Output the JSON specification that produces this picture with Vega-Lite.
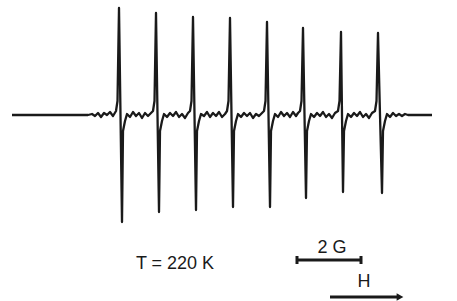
{
  "$schema": "https://vega.github.io/schema/vega-lite/v6.json",
  "width": 457,
  "height": 301,
  "autosize": {"type": "none"},
  "padding": 0,
  "background": "white",
  "config": {"view": {"stroke": null}},
  "datasets": {
    "spectrum": [
      {"field": 12, "signal": 0}, {"field": 88, "signal": 0}, {"field": 92, "signal": 1}, {"field": 95, "signal": -1},
      {"field": 98, "signal": 2}, {"field": 101, "signal": -2}, {"field": 104, "signal": 2}, {"field": 107, "signal": 0},
      {"field": 110, "signal": 3}, {"field": 113, "signal": -1},
      {"field": 116, "signal": 4}, {"field": 117.5, "signal": 14}, {"field": 119, "signal": 107}, {"field": 120.5, "signal": 0},
      {"field": 122, "signal": -107}, {"field": 123, "signal": -16}, {"field": 125, "signal": -6}, {"field": 127, "signal": 1},
      {"field": 130, "signal": -2}, {"field": 133, "signal": 3}, {"field": 136, "signal": -1}, {"field": 139, "signal": 2},
      {"field": 142, "signal": -3}, {"field": 145, "signal": 2}, {"field": 148, "signal": -1}, {"field": 151, "signal": 2},
      {"field": 153, "signal": 4}, {"field": 154.5, "signal": 14}, {"field": 156, "signal": 102}, {"field": 157.5, "signal": 0},
      {"field": 159, "signal": -97}, {"field": 160, "signal": -16}, {"field": 162, "signal": -6}, {"field": 164, "signal": 1},
      {"field": 167, "signal": -2}, {"field": 170, "signal": 2}, {"field": 173, "signal": -1}, {"field": 176, "signal": 3},
      {"field": 179, "signal": -2}, {"field": 182, "signal": 1}, {"field": 185, "signal": -3}, {"field": 188, "signal": 2},
      {"field": 190, "signal": 4}, {"field": 191.5, "signal": 14}, {"field": 193, "signal": 98}, {"field": 194.5, "signal": 0},
      {"field": 196, "signal": -95}, {"field": 197, "signal": -16}, {"field": 199, "signal": -6}, {"field": 201, "signal": 1},
      {"field": 204, "signal": -1}, {"field": 207, "signal": 3}, {"field": 210, "signal": -2}, {"field": 213, "signal": 2},
      {"field": 216, "signal": -1}, {"field": 219, "signal": 3}, {"field": 222, "signal": -2}, {"field": 225, "signal": 1},
      {"field": 227, "signal": 4}, {"field": 228.5, "signal": 14}, {"field": 230, "signal": 97}, {"field": 231.5, "signal": 0},
      {"field": 233, "signal": -92}, {"field": 234, "signal": -16}, {"field": 236, "signal": -6}, {"field": 238, "signal": 1},
      {"field": 241, "signal": -2}, {"field": 244, "signal": 2}, {"field": 247, "signal": -1}, {"field": 250, "signal": 2},
      {"field": 253, "signal": -3}, {"field": 256, "signal": 1}, {"field": 259, "signal": -1}, {"field": 262, "signal": 2},
      {"field": 264, "signal": 4}, {"field": 265.5, "signal": 14}, {"field": 267, "signal": 93}, {"field": 268.5, "signal": 0},
      {"field": 270, "signal": -92}, {"field": 271, "signal": -16}, {"field": 273, "signal": -6}, {"field": 275, "signal": 1},
      {"field": 278, "signal": -2}, {"field": 281, "signal": 3}, {"field": 284, "signal": -1}, {"field": 287, "signal": 2},
      {"field": 290, "signal": -2}, {"field": 293, "signal": 3}, {"field": 296, "signal": -1}, {"field": 298, "signal": 2},
      {"field": 300, "signal": 4}, {"field": 301.5, "signal": 14}, {"field": 303, "signal": 87}, {"field": 304.5, "signal": 0},
      {"field": 306, "signal": -83}, {"field": 307, "signal": -16}, {"field": 309, "signal": -6}, {"field": 311, "signal": 1},
      {"field": 314, "signal": -2}, {"field": 317, "signal": 2}, {"field": 320, "signal": -1}, {"field": 323, "signal": 3},
      {"field": 326, "signal": -2}, {"field": 329, "signal": 1}, {"field": 332, "signal": -3}, {"field": 335, "signal": 2},
      {"field": 338, "signal": 4}, {"field": 339.5, "signal": 14}, {"field": 341, "signal": 83}, {"field": 342, "signal": 0},
      {"field": 343, "signal": -77}, {"field": 344, "signal": -16}, {"field": 346, "signal": -6}, {"field": 348, "signal": 1},
      {"field": 351, "signal": -2}, {"field": 354, "signal": 2}, {"field": 357, "signal": -1}, {"field": 360, "signal": 3},
      {"field": 363, "signal": -2}, {"field": 366, "signal": 1}, {"field": 369, "signal": -3}, {"field": 372, "signal": 2},
      {"field": 375, "signal": 4}, {"field": 376.5, "signal": 14}, {"field": 378, "signal": 82}, {"field": 380, "signal": 0},
      {"field": 382, "signal": -78}, {"field": 383, "signal": -16}, {"field": 385, "signal": -6}, {"field": 387, "signal": 1},
      {"field": 390, "signal": -2}, {"field": 393, "signal": 2}, {"field": 396, "signal": -1}, {"field": 399, "signal": 1},
      {"field": 402, "signal": -1}, {"field": 405, "signal": 1}, {"field": 408, "signal": 0}, {"field": 432, "signal": 0}
    ],
    "labels": [
      {"field": 175, "signal": -149, "label": "T = 220 K"},
      {"field": 332, "signal": -133, "label": "2 G"},
      {"field": 364, "signal": -167, "label": "H"}
    ],
    "bars": [
      {"x1": 297, "x2": 361, "y1": -145, "y2": -145},
      {"x1": 297, "x2": 297, "y1": -141, "y2": -149},
      {"x1": 361, "x2": 361, "y1": -141, "y2": -149},
      {"x1": 330, "x2": 398, "y1": -182, "y2": -182}
    ],
    "heads": [
      {"field": 400, "signal": -182}
    ]
  },
  "layer": [
    {
      "data": {"name": "spectrum"},
      "mark": {"type": "line", "color": "#1a1a1a", "strokeWidth": 2.3, "strokeJoin": "round"},
      "encoding": {
        "x": {"field": "field", "type": "quantitative", "scale": {"domain": [0, 457], "nice": false, "zero": false}, "axis": null},
        "y": {"field": "signal", "type": "quantitative", "scale": {"domain": [-186, 115], "nice": false, "zero": false}, "axis": null},
        "order": {"field": "field", "type": "quantitative"}
      }
    },
    {
      "data": {"name": "bars"},
      "mark": {"type": "rule", "color": "#1a1a1a", "strokeWidth": 3},
      "encoding": {
        "x": {"field": "x1", "type": "quantitative"},
        "x2": {"field": "x2"},
        "y": {"field": "y1", "type": "quantitative"},
        "y2": {"field": "y2"}
      }
    },
    {
      "data": {"name": "heads"},
      "mark": {"type": "point", "shape": "triangle-right", "filled": true, "color": "#1a1a1a", "size": 60, "opacity": 1},
      "encoding": {
        "x": {"field": "field", "type": "quantitative"},
        "y": {"field": "signal", "type": "quantitative"}
      }
    },
    {
      "data": {"name": "labels"},
      "mark": {"type": "text", "font": "Liberation Sans", "fontSize": 18, "color": "#1a1a1a", "align": "center", "baseline": "middle"},
      "encoding": {
        "x": {"field": "field", "type": "quantitative"},
        "y": {"field": "signal", "type": "quantitative"},
        "text": {"field": "label"}
      }
    }
  ]
}
